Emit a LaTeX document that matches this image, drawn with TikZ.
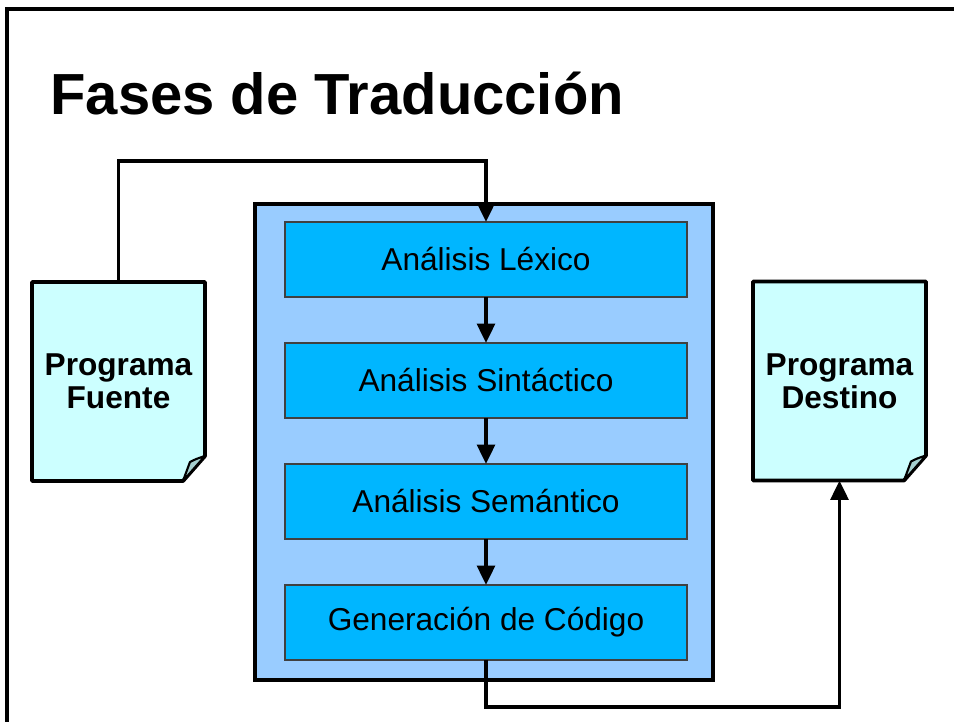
\documentclass[tikz,border=0pt]{standalone}
\usepackage{fontspec}
\setmainfont{Liberation Sans}
\usetikzlibrary{arrows.meta,calc,backgrounds}
\definecolor{azulfondo}{HTML}{99CCFF}
\definecolor{azulfase}{HTML}{00B6FF}
\definecolor{papel}{HTML}{CCFFFF}
\definecolor{pliegue}{HTML}{A6CFCF}
\begin{document}
\begin{tikzpicture}[x=0.02cm,y=-0.02cm,
  etapa/.style={draw=black!75,line width=0.8pt,fill=azulfase,minimum width=8.04cm,minimum height=1.5cm,inner sep=0pt,outer sep=0pt,font=\fontsize{18}{20}\selectfont},
  hoja/.style={minimum width=3.46cm,minimum height=3.98cm,inner sep=0pt,outer sep=0pt,align=center,font=\fontsize{18}{19}\selectfont\bfseries},
  flecha/.style={line width=2.2pt,-{Triangle[length=11pt,width=10pt]}},
  linea/.style={line width=2.2pt}]
\useasboundingbox (0,0) rectangle (954,722);
\draw[linea] (7,722) -- (7,9) -- (954,9);
\node[anchor=base west,inner sep=0pt,font=\fontsize{33}{36}\selectfont\bfseries] (titulo) at (50,115) {Fases de Traducción};
\node[draw,line width=2.6pt,fill=azulfondo,minimum width=9.16cm,minimum height=9.52cm,inner sep=0pt] (marco) at (484,442) {};
\foreach \n/\t [count=\i] in {lex/Análisis Léxico,sin/Análisis Sintáctico,sem/Análisis Semántico,gen/Generación de Código}
  \node[etapa] (\n) at (486,138.5+121*\i) {\t};
\foreach \a/\b in {lex/sin,sin/sem,sem/gen} \draw[flecha] (\a) -- (\b);
\node[hoja] (fuente) at (118.5,381.5) {Programa\\Fuente};
\node[hoja] (destino) at (839.5,381) {Programa\\Destino};
\begin{pgfonlayer}{background}
\foreach \n in {fuente,destino} {
  \draw[linea,fill=papel,line join=round] (\n.north west) -- (\n.north east) -- ($(\n.south east)+(0,-25)$) -- ($(\n.south east)+(-22,0)$) -- (\n.south west) -- cycle;
  \draw[line width=1.2pt,fill=pliegue,line join=round] ($(\n.south east)+(0,-25)$) .. controls ($(\n.south east)+(-9,-22)$) .. ($(\n.south east)+(-15,-19)$) -- ($(\n.south east)+(-22,0)$) -- cycle;
}
\end{pgfonlayer}
\draw[flecha] (fuente.north) -- ++(0,-121) -| (lex.north);
\draw[flecha] (gen.south) -- ++(0,47) -| (destino.south);
\end{tikzpicture}
\end{document}
